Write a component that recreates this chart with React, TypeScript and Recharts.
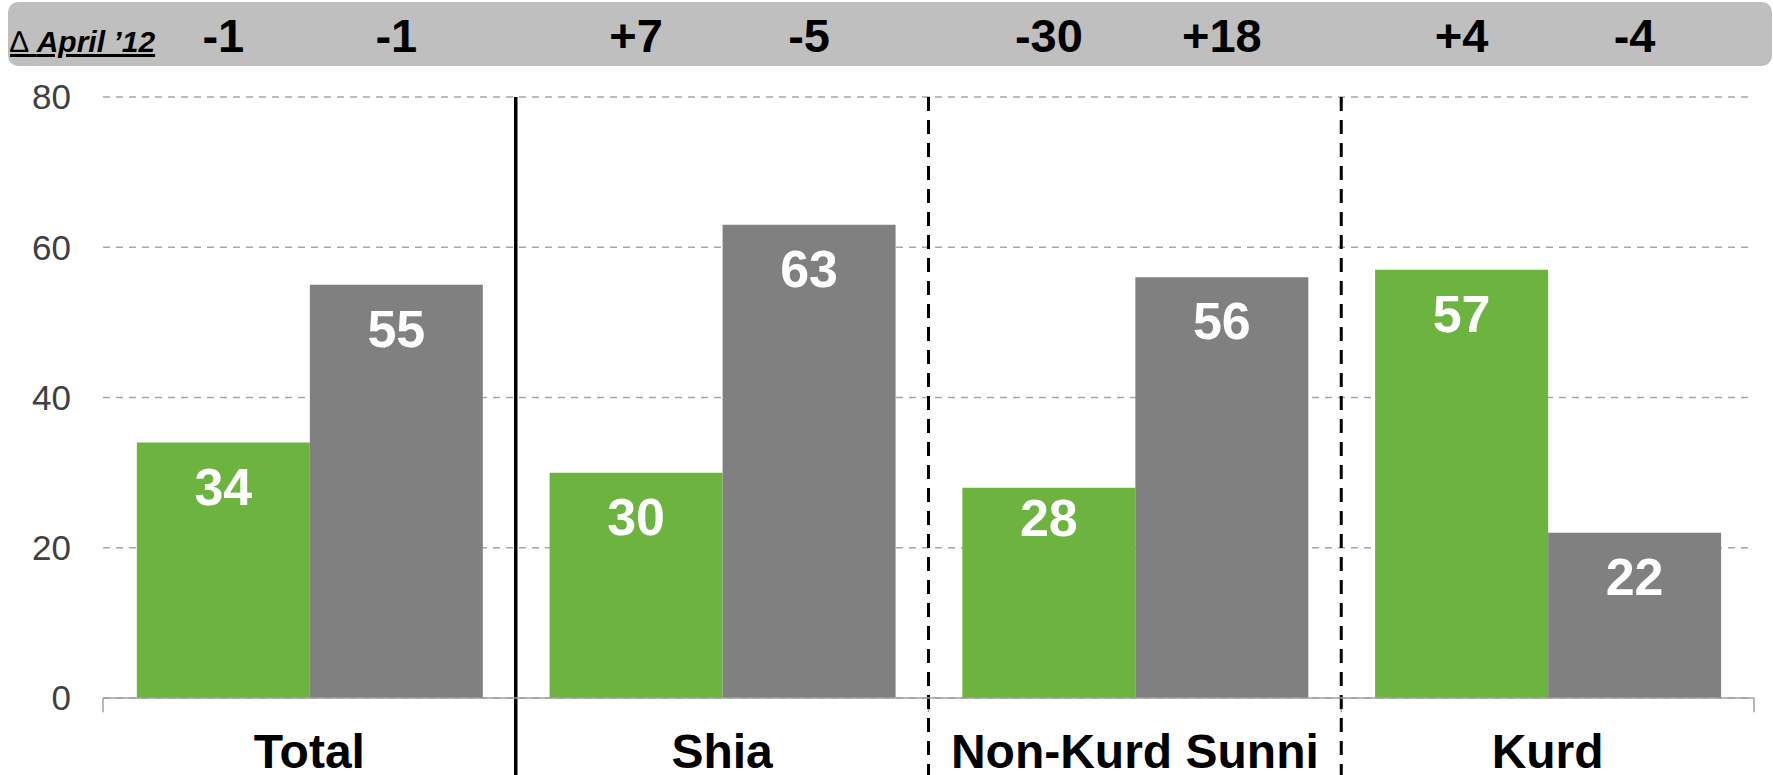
import React from 'react';
import { BarChart, Bar, XAxis, YAxis, CartesianGrid, ReferenceLine, LabelList } from 'recharts';

const categories = ['Total', 'Shia', 'Non-Kurd Sunni', 'Kurd'];
const greenValues = [34, 30, 28, 57];
const grayValues = [55, 63, 56, 22];
const greenDeltas = ['-1', '+7', '-30', '+4'];
const grayDeltas = ['-1', '-5', '+18', '-4'];
const yTicks = [0, 20, 40, 60, 80];
const deltaTitle = 'April \u201912';
const separatorCategories = ['Shia', 'Non-Kurd Sunni', 'Kurd'];
const separatorDashed = [false, true, true];

const data = categories.map((c, i) => ({
  category: c,
  green: greenValues[i],
  gray: grayValues[i],
  greenDelta: greenDeltas[i],
  grayDelta: grayDeltas[i],
}));

const FONT = '"Liberation Sans", Arial, sans-serif';
const W = 1773;
const H = 775;

function getBox(props: any) {
  const vb = props.viewBox || {};
  const x = props.x ?? vb.x;
  const y = props.y ?? vb.y;
  const width = props.width ?? vb.width;
  const height = props.height ?? vb.height;
  return { x: Number(x), y: Number(y), width: Number(width), height: Number(height) };
}

// the short green Non-Kurd Sunni label sits level with the Shia one in the original
const greenLabelNudge = [0, 0, -14, 0];

const makeValueLabel = (nudge: number[]) => (props: any) => {
  const { x, y, width } = getBox(props);
  const dy = nudge[props.index] || 0;
  return (
    <text x={x + width / 2} y={y + 62 + dy} textAnchor="middle" fill="#FFFFFF" fontFamily={FONT} fontWeight="bold" fontSize={52}>
      {props.value}
    </text>
  );
};
const GreenValueLabel = makeValueLabel(greenLabelNudge);
const GrayValueLabel = makeValueLabel([0, 0, 0, 0]);

const DeltaLabel = (props: any) => {
  const { x, width } = getBox(props);
  return (
    <text x={x + width / 2} y={52} textAnchor="middle" fill="#000000" fontFamily={FONT} fontWeight="bold" fontSize={47}>
      {props.value}
    </text>
  );
};

const CategoryTick = (props: any) => {
  const { x, payload } = props;
  return (
    <text x={x} y={768} textAnchor="middle" fill="#000000" fontFamily={FONT} fontWeight="bold" fontSize={48}>
      {payload.value}
    </text>
  );
};

export default function App() {
  const last = categories[categories.length - 1];
  return (
    <div style={{ position: 'absolute', left: 0, top: 0, width: W, height: H, background: '#FFFFFF', overflow: 'hidden' }}>
      <svg width={W} height={H} style={{ position: 'absolute', left: 0, top: 0 }}>
        <rect x={8} y={2} width={1764} height={64} rx={10} ry={10} fill="#BFBFBF" />
        <text x={10} y={52} fontFamily={FONT} fontSize={30} fill="#000000" textDecoration="underline">
          <tspan fontWeight="normal">{'\u2206 '}</tspan>
          <tspan fontWeight="bold" fontStyle="italic">{deltaTitle}</tspan>
        </text>
      </svg>
      <div style={{ position: 'absolute', left: 0, top: 0 }}>
        <BarChart
          width={W}
          height={H}
          data={data}
          margin={{ top: 97, right: 19, bottom: 0, left: 0 }}
          barCategoryGap="8.2%"
          barGap={0}
        >
          <CartesianGrid vertical={false} stroke="#A6A6A6" strokeDasharray="7 6" strokeWidth={1.5} />
          <XAxis
            dataKey="category"
            height={77}
            interval={0}
            tickLine={false}
            axisLine={{ stroke: '#A0A0A0', strokeWidth: 1.5 }}
            tick={<CategoryTick />}
          />
          <YAxis
            domain={[0, 80]}
            ticks={yTicks}
            width={103}
            axisLine={false}
            tickLine={false}
            tickSize={0}
            tickMargin={32}
            tick={{ fontSize: 35, fill: '#404040', fontFamily: FONT }}
          />
          <Bar dataKey="green" fill="#6DB33F" isAnimationActive={false}>
            <LabelList dataKey="green" content={<GreenValueLabel />} />
            <LabelList dataKey="greenDelta" content={<DeltaLabel />} />
          </Bar>
          <Bar dataKey="gray" fill="#808080" isAnimationActive={false}>
            <LabelList dataKey="gray" content={<GrayValueLabel />} />
            <LabelList dataKey="grayDelta" content={<DeltaLabel />} />
          </Bar>
          {categories.map((c) => (
            <ReferenceLine
              key={'b' + c}
              ifOverflow="visible"
              position="start"
              segment={[{ x: c, y: 0 }, { x: c, y: -1.9 }]}
              stroke="#A0A0A0"
              strokeWidth={1.5}
            />
          ))}
          <ReferenceLine
            ifOverflow="visible"
            position="end"
            segment={[{ x: last, y: 0 }, { x: last, y: -1.9 }]}
            stroke="#A0A0A0"
            strokeWidth={1.5}
          />
          {separatorCategories.map((c, i) => (
            <ReferenceLine
              key={'s' + c}
              ifOverflow="visible"
              position="start"
              segment={[{ x: c, y: 80 }, { x: c, y: -10.5 }]}
              stroke="#000000"
              strokeWidth={separatorDashed[i] ? 3 : 3.5}
              strokeDasharray={separatorDashed[i] ? '14 9' : undefined}
            />
          ))}
        </BarChart>
      </div>
    </div>
  );
}
